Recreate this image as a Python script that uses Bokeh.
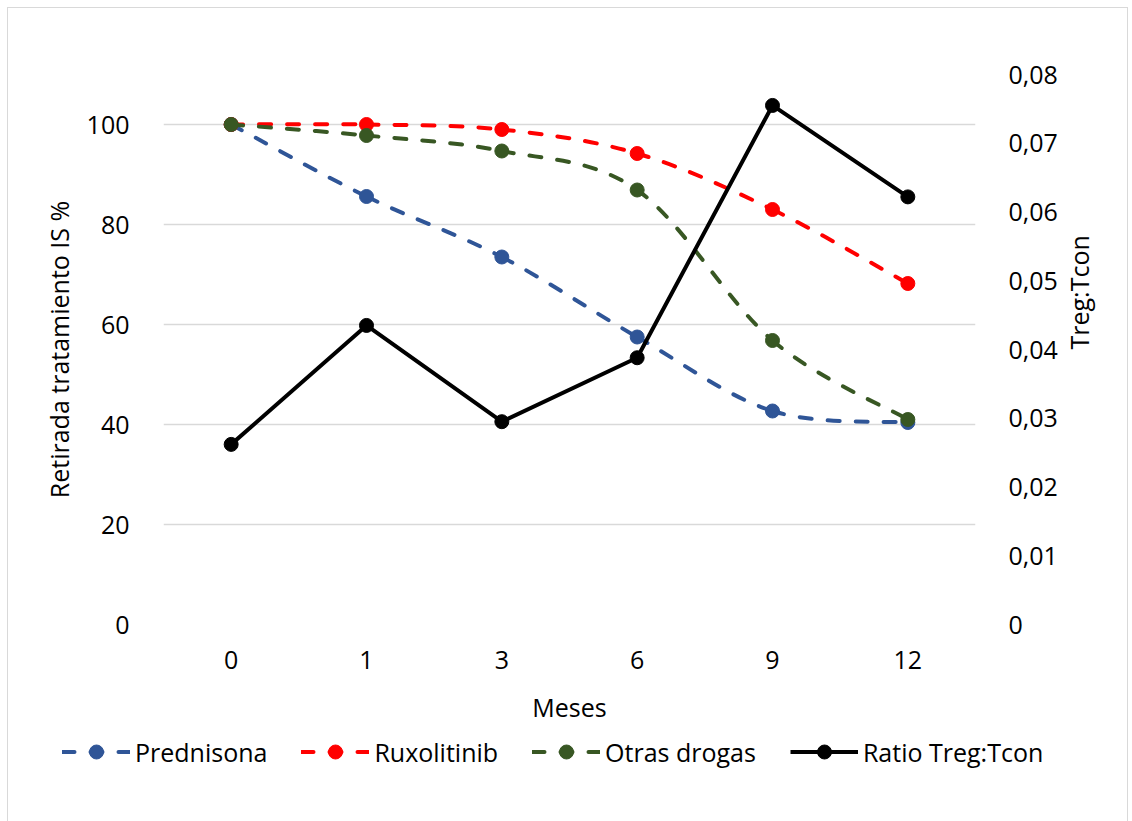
import math

from bokeh.plotting import figure
from bokeh.layouts import column
from bokeh.models import (Range1d, LinearAxis, FixedTicker, CustomJSTickFormatter,
                          Legend, LegendItem, ColumnDataSource)
from bokeh.embed import file_html
from bokeh.resources import INLINE

# --- data ---------------------------------------------------------------
meses = ["0", "1", "3", "6", "9", "12"]
prednisona = [100, 85.6, 73.5, 57.5, 42.7, 40.4]
ruxolitinib = [100, 100, 99.0, 94.2, 83.0, 68.2]
otras_drogas = [100, 97.8, 94.7, 86.9, 56.8, 41.0]
ratio_treg_tcon = [0.0262, 0.0435, 0.0295, 0.0388, 0.0755, 0.0622]

left_ticks = [0, 20, 40, 60, 80, 100]
right_ticks = [0, 0.01, 0.02, 0.03, 0.04, 0.05, 0.06, 0.07, 0.08]

FONT = "Open Sans"
FS = "25px"

BLUE = "#2F5597"
RED = "#FF0000"
GREEN = "#385723"
GRID = "#D9D9D9"

DASH = dict(line_width=4, line_dash="12 16", line_cap="round")


def smooth_source(ys):
    """Bezier segments through the points (Catmull-Rom style control points)."""
    n = len(ys)
    xs = list(range(n))
    d = dict(x0=[], y0=[], x1=[], y1=[], cx0=[], cy0=[], cx1=[], cy1=[])
    for i in range(n - 1):
        a = max(i - 1, 0)
        b = min(i + 2, n - 1)
        d["x0"].append(xs[i]); d["y0"].append(ys[i])
        d["x1"].append(xs[i + 1]); d["y1"].append(ys[i + 1])
        d["cx0"].append(xs[i] + (xs[i + 1] - xs[a]) / 6)
        d["cy0"].append(ys[i] + (ys[i + 1] - ys[a]) / 6)
        d["cx1"].append(xs[i + 1] - (xs[b] - xs[i]) / 6)
        d["cy1"].append(ys[i + 1] - (ys[b] - ys[i]) / 6)
    return ColumnDataSource(d)


p = figure(frame_width=812, frame_height=550, output_backend="svg",
           toolbar_location=None,
           x_range=Range1d(-0.5, 5.5), y_range=Range1d(0, 110),
           min_border_left=155, min_border_right=152,
           min_border_top=66, min_border_bottom=104,
           background_fill_color="white", border_fill_color="white")
p.outline_line_color = None
p.extra_y_ranges = {"ratio": Range1d(0, 0.08)}

# grid
p.xgrid.visible = False
p.ygrid.grid_line_color = GRID
p.ygrid.grid_line_width = 1.5

# bottom axis
xa = p.xaxis[0]
xa.ticker = FixedTicker(ticks=list(range(len(meses))))
xa.major_label_overrides = {i: m for i, m in enumerate(meses)}
xa.axis_label = "Meses"

# left axis
ya = p.yaxis[0]
ya.ticker = FixedTicker(ticks=left_ticks)
ya.axis_label = "Retirada tratamiento IS %"

# right axis
yr = LinearAxis(y_range_name="ratio", ticker=FixedTicker(ticks=right_ticks),
                axis_label="Treg:Tcon")
yr.formatter = CustomJSTickFormatter(
    code="return tick === 0 ? '0' : tick.toFixed(2).replace('.', ',');")
if "axis_label_orientation" in yr.properties():
    yr.axis_label_orientation = math.pi / 2
p.add_layout(yr, "right")

for ax in (xa, ya, yr):
    ax.axis_line_color = None
    ax.major_tick_line_color = None
    ax.minor_tick_line_color = None
    ax.major_label_text_font = FONT
    ax.major_label_text_font_size = FS
    ax.major_label_text_color = "black"
    ax.axis_label_text_font = FONT
    ax.axis_label_text_font_size = FS
    ax.axis_label_text_font_style = "normal"
    ax.axis_label_text_color = "black"

xa.major_label_standoff = 20
xa.axis_label_standoff = 18
ya.major_label_standoff = 28
ya.axis_label_standoff = 8
yr.major_label_standoff = 27
yr.axis_label_standoff = 18

# series
idx = list(range(len(meses)))
series = (("Prednisona", prednisona, BLUE),
          ("Ruxolitinib", ruxolitinib, RED),
          ("Otras drogas", otras_drogas, GREEN))
for name, ys, color in series:
    p.bezier(x0="x0", y0="y0", x1="x1", y1="y1", cx0="cx0", cy0="cy0",
             cx1="cx1", cy1="cy1", source=smooth_source(ys), line_color=color, **DASH)
    p.scatter(idx, ys, size=14, marker="circle", fill_color=color, line_color=color)

p.line(idx, ratio_treg_tcon, y_range_name="ratio", line_color="black", line_width=4)
p.scatter(idx, ratio_treg_tcon, y_range_name="ratio", size=14,
          marker="circle", fill_color="black", line_color="black")

# legend strip under the chart (key glyphs sit outside its visible range)
leg = figure(width=1119, height=93, output_backend="svg", toolbar_location=None,
             x_range=Range1d(0, 1), y_range=Range1d(0, 1),
             x_axis_type=None, y_axis_type=None, min_border=0,
             background_fill_color="white", border_fill_color="white")
leg.outline_line_color = None
for fig in (p, leg):
    if "frame_align" in fig.properties():
        fig.frame_align = False

items = []
for name, ys, color in series:
    kl = leg.line([-2, -1], [-2, -1], line_color=color, **DASH)
    kp = leg.scatter([-2], [-2], marker="circle", size=14,
                     fill_color=color, line_color=color)
    items.append(LegendItem(label=name, renderers=[kl, kp]))
kl = leg.line([-2, -1], [-2, -1], line_color="black", line_width=4)
kp = leg.scatter([-2], [-2], marker="circle", size=14,
                 fill_color="black", line_color="black")
items.append(LegendItem(label="Ratio Treg:Tcon", renderers=[kl, kp]))

legend = Legend(items=items, orientation="horizontal", location=(54, 52),
                glyph_width=68, glyph_height=35, label_standoff=5, spacing=34,
                padding=0, margin=0, border_line_color=None,
                background_fill_alpha=0,
                label_text_font=FONT, label_text_font_size=FS,
                label_text_color="black")
leg.add_layout(legend, "center")

page = column(p, leg, spacing=0)
# light frame around the whole chart
page.styles = {"margin": "7px 0 0 7px", "border": "1px solid #D9D9D9",
               "border-bottom": "none"}

open("out.html", "w").write(file_html(page, INLINE))
